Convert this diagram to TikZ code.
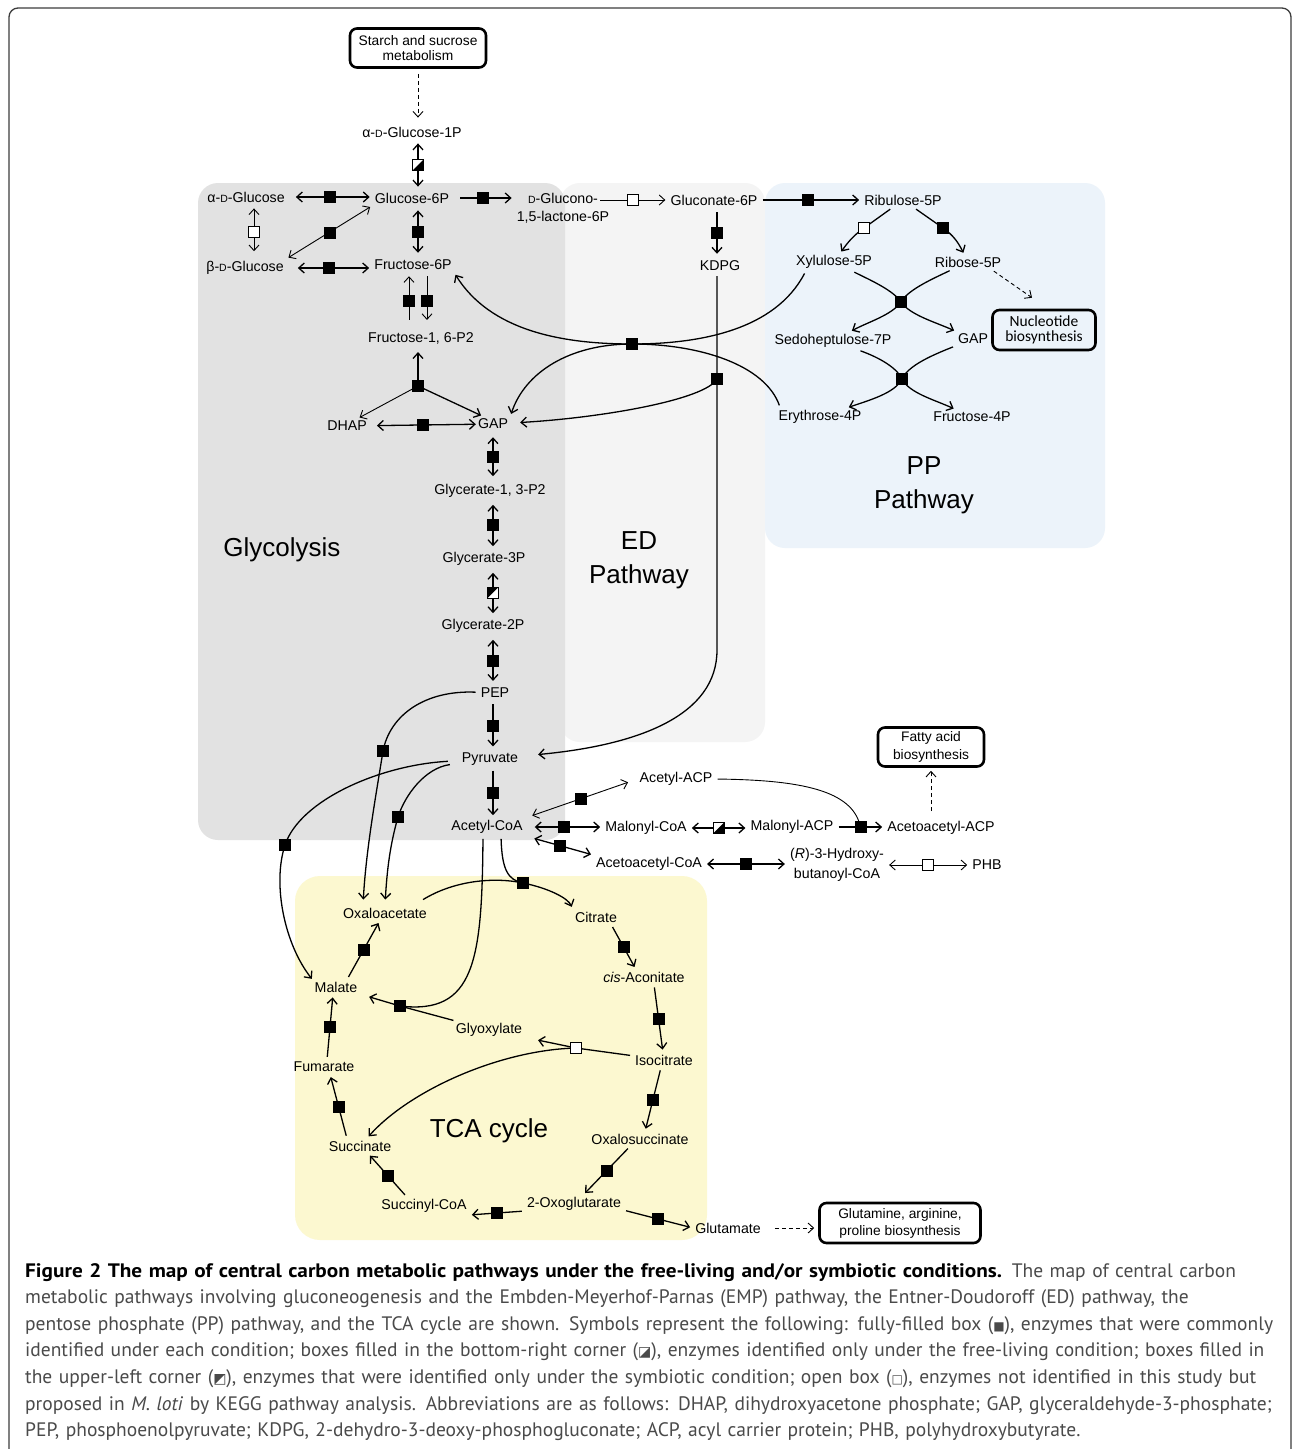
\documentclass[tikz,border=0pt]{standalone}
\usepackage{fontspec}
\setmainfont{Liberation Sans}
\newfontfamily\calib{Carlito}
\newfontfamily\capf{PT Sans}[BoldFeatures={FakeStretch=1.09}]
\newfontfamily\symf{DejaVu Sans}
\usetikzlibrary{arrows.meta,calc}
\newcommand{\smD}{{\fontsize{10.5pt}{10pt}\selectfont D}}
\definecolor{glyfill}{HTML}{E2E2E2}
\definecolor{edfill}{HTML}{F4F4F4}
\definecolor{ppfill}{HTML}{ECF3FA}
\definecolor{tcafill}{HTML}{FCF8D0}
\definecolor{capgray}{HTML}{4A4A4A}
\definecolor{framegray}{HTML}{3C3C3C}
\begin{document}
\begin{tikzpicture}[x=1pt,y=-1pt,
  >={Straight Barb[length=5.5pt,width=10pt]},
  met/.style={font=\fontsize{14.2pt}{18pt}\selectfont, inner sep=2pt, align=center},
  bigbox/.style={draw, line width=2.6pt, rounded corners=7pt, inner sep=0pt, align=center,
    font=\fontsize{13.8pt}{15pt}\selectfont},
  region/.style={font=\fontsize{26pt}{34pt}\selectfont, align=center, inner sep=0pt},
  ebox/.style={draw=black, fill=black, minimum size=11pt, inner sep=0pt, line width=0.4pt},
  obox/.style={draw=black, fill=white, minimum size=11pt, inner sep=0pt, line width=0.7pt},
  hbr/.style={obox, path picture={\fill[black] (path picture bounding box.south west) -- (path picture bounding box.south east) -- (path picture bounding box.north east) -- cycle;}},
  hul/.style={obox, path picture={\fill[black] (path picture bounding box.south west) -- (path picture bounding box.north west) -- (path picture bounding box.north east) -- cycle;}},
  rx/.style={line width=1.3pt, shorten <=3pt, shorten >=3pt},
  thinrx/.style={line width=0.9pt, shorten <=3pt, shorten >=3pt},
  dsh/.style={line width=0.9pt, dash pattern=on 4pt off 3pt, shorten <=3pt, shorten >=3pt}
]
\useasboundingbox (0,0) rectangle (1292,1449);
\fill[white] (0,0) rectangle (1292,1449);
% frame
\draw[line width=1.3pt, draw=framegray, rounded corners=9pt] (9,1470) -- (9,8) -- (1291,8) -- (1291,1470);

% regions
\fill[edfill, rounded corners=20pt] (560,183) rectangle (765,742);
\fill[ppfill, rounded corners=20pt] (765,183) rectangle (1105,548);
\fill[glyfill, rounded corners=20pt] (198,183) rectangle (565,840);
\fill[tcafill, rounded corners=25pt] (295,876) rectangle (707,1240);

\node[region] (lglyc) at (282,550) {Glycolysis};
\node[region] (led) at (639,560) {ED\\Pathway};
\node[region] (lpp) at (924,485) {PP\\Pathway};
\node[region] (ltca) at (489,1131) {TCA cycle};

% ---------- metabolites ----------
\node[bigbox, minimum width=136pt, minimum height=39pt] (starch) at (418,48) {Starch and sucrose\\metabolism};
\node[met] (ag1p) at (412,132) {α-\smD-Glucose-1P};
\node[met] (aglc) at (246,197) {α-\smD-Glucose};
\node[met] (bglc) at (245,268) {β-\smD-Glucose};
\node[met] (g6p) at (412,198) {Glucose-6P};
\node[met] (f6p) at (413,265) {Fructose-6P};
\node[met] (f16p) at (421,338) {Fructose-1, 6-P2};
\node[met] (dhap) at (347,426) {DHAP};
\node[met] (gap) at (493,424) {GAP};
\node[met] (g13p) at (490,491) {Glycerate-1, 3-P2};
\node[met] (g3p) at (484,559) {Glycerate-3P};
\node[met] (g2p) at (483,626) {Glycerate-2P};
\node[met] (pep) at (495,693) {PEP};
\node[met] (pyr) at (490,759) {Pyruvate};
\node[met] (acoa) at (487,827) {Acetyl-CoA};
\node[met] (glac) at (563,208) {\smD-Glucono-\\1,5-lactone-6P};
\node[met] (gn6p) at (714,200) {Gluconate-6P};
\node[met] (kdpg) at (720,266) {KDPG};
\node[met] (ru5p) at (903,200) {Ribulose-5P};
\node[met] (xu5p) at (834,262) {Xylulose-5P};
\node[met] (r5p) at (968,262) {Ribose-5P};
\node[met] (s7p) at (833,341) {Sedoheptulose-7P};
\node[met] (gapb) at (973,339) {GAP};
\node[met] (e4p) at (820,417) {Erythrose-4P};
\node[met] (f4p) at (972,417) {Fructose-4P};
\node[bigbox, font=\calib\fontsize{15.5pt}{15pt}\selectfont, minimum width=103pt, minimum height=40pt] (nucl) at (1044,330) {Nucleotide\\biosynthesis};

\node[met] (aacp) at (676,779) {Acetyl-ACP};
\node[met] (mcoa) at (646,828) {Malonyl-CoA};
\node[met] (macp) at (792,827) {Malonyl-ACP};
\node[met] (aaacp) at (941,828) {Acetoacetyl-ACP};
\node[bigbox, font=\fontsize{13.8pt}{18pt}\selectfont, minimum width=106pt, minimum height=39pt] (fatty) at (931,747) {Fatty acid\\biosynthesis};
\node[met] (aacoa) at (649,864) {Acetoacetyl-CoA};
\node[met, font=\fontsize{14.2pt}{20pt}\selectfont] (hb) at (837,865) {(\textit{R})-3-Hydroxy-\\butanoyl-CoA};
\node[met] (phb) at (987,865) {PHB};

\node[met] (oaa) at (385,913) {Oxaloacetate};
\node[met] (cit) at (596,917) {Citrate};
\node[met] (cis) at (644,977) {\textit{cis}-Aconitate};
\node[met] (isc) at (664,1060) {Isocitrate};
\node[met] (oxs) at (640,1139) {Oxalosuccinate};
\node[met] (og) at (574,1204) {2-Oxoglutarate};
\node[met] (scoa) at (424,1206) {Succinyl-CoA};
\node[met] (succ) at (360,1146) {Succinate};
\node[met] (fum) at (324,1067) {Fumarate};
\node[met] (mal) at (336,987) {Malate};
\node[met] (glx) at (489,1030) {Glyoxylate};
\node[met] (glu) at (728,1228) {Glutamate};
\node[bigbox, font=\fontsize{13.8pt}{17pt}\selectfont, minimum width=161pt, minimum height=40pt] (gln) at (900,1223) {Glutamine, arginine,\\proline biosynthesis};

% ---------- coordinates for branch boxes ----------
\coordinate (tk1) at (632,344);
\coordinate (kd) at (717,379);
\coordinate (kd2) at (717,650);
\coordinate (c1) at (864,228);
\coordinate (c2) at (943,228);
\coordinate (tk2) at (901,302);
\coordinate (ta) at (902,379);
\coordinate (ald) at (418,386);
\coordinate (ppc) at (383,751);
\coordinate (pyoa) at (398,817);
\coordinate (pyml) at (285,845);
\coordinate (ms) at (400,1006);
\coordinate (cs) at (523,883);
\coordinate (icl) at (576,1048);

% ---------- upper part ----------
\draw[dsh,->,shorten <=5pt,shorten >=7pt] (starch.south) -- (starch.south |- ag1p.north);
\draw[rx,<->,shorten <=4pt,shorten >=4pt] ([xshift=6pt]ag1p.south) -- node[hbr] (e1) {} ([xshift=6pt]g6p.north);
\draw[rx,<->,shorten <=9pt] (aglc.east) -- node[ebox] (e2) {} (aglc.east -| g6p.west);
\draw[thinrx,<->,shorten <=4pt,shorten >=8pt] ([xshift=8pt]aglc.south) -- node[obox] (e3) {} ([xshift=9pt]bglc.north);
\draw[thinrx,<->] (bglc.north east) -- node[ebox] (e4) {} (g6p.south west);
\draw[rx,<->,shorten <=12pt] (bglc.east) -- node[ebox] (e5) {} (bglc.east -| f6p.west);
\draw[rx,<->,shorten <=5pt,shorten >=5pt] ([xshift=6pt]g6p.south) -- node[ebox] (e6) {} ([xshift=5pt]f6p.north);
\draw[thinrx,->,shorten <=10pt,shorten >=4pt] ([xshift=-12pt]f16p.north) -- node[ebox] (e7) {} ([xshift=-4pt]f6p.south);
\draw[thinrx,->,shorten <=4pt,shorten >=10pt] ([xshift=14pt]f6p.south) -- node[ebox] (e8) {} ([xshift=6pt]f16p.north);
\draw[rx,->,shorten <=9pt] (g6p.east) -- node[ebox] (e9) {} (g6p.east -| glac.west);
\draw[thinrx,->] ([xshift=-14pt]glac.east |- gn6p.west) -- node[obox] (e10) {} (gn6p.west);
\draw[rx,->] (gn6p) -- node[ebox,pos=.47] (e11) {} (ru5p);
\draw[rx,->,shorten <=5pt,shorten >=5pt] ([xshift=3pt]gn6p.south) -- node[ebox] (e12) {} ([xshift=-3pt]kdpg.north);

% aldolase
\draw[rx,->,shorten <=0pt,shorten >=6pt] (ald) -- ([xshift=-3pt]f16p.south);
\draw[thinrx,->,shorten <=0pt] (ald) -- ([xshift=-12pt]dhap.north east);
\draw[rx,->,shorten <=0pt] (ald) -- ([xshift=8pt]gap.north west);
\node[ebox] (e13) at (ald) {};
\draw[rx,<->,shorten <=8pt,shorten >=0pt] (dhap) -- node[ebox] (e14) {} (gap);

% glycolysis chain
\draw[rx,<->,shorten <=6pt,shorten >=6pt] (gap.south) -- node[ebox] (e15) {} ([xshift=3pt]g13p.north);
\draw[rx,<->,shorten <=5pt,shorten >=4pt] ([xshift=3pt]g13p.south) -- node[ebox] (e16) {} ([xshift=9pt]g3p.north);
\draw[rx,<->,shorten <=5pt,shorten >=4pt] ([xshift=9pt]g3p.south) -- node[hul] (e17) {} ([xshift=10pt]g2p.north);
\draw[rx,<->,shorten <=5pt,shorten >=5pt] ([xshift=10pt]g2p.south) -- node[ebox] (e18) {} ([xshift=-2pt]pep.north);
\draw[rx,->,shorten <=4pt,shorten >=4pt] ([xshift=-2pt]pep.south) -- node[ebox] (e19) {} ([xshift=3pt]pyr.north);
\draw[rx,->,shorten <=3pt,shorten >=3pt] ([xshift=3pt]pyr.south) -- node[ebox] (e20) {} ([xshift=6pt]acoa.north);

% ED: KDPG
\draw[rx,->,shorten >=18pt] ([xshift=-3pt]kdpg.south) -- (kd) -- (kd2) .. controls (717,715) and (640,745) .. (pyr);
\draw[rx,->,shorten <=0pt,shorten >=10pt] (kd) .. controls (705,400) and (600,418) .. (gap);
\node[ebox] (e21) at (kd) {};

% transketolase 1
\draw[rx,->] ([xshift=12pt]xu5p.south west) .. controls (775,330) and (700,344) .. (tk1) .. controls (570,344) and (525,372) .. (gap.north east);
\draw[rx,->] ([xshift=4pt]e4p.north west) .. controls (765,365) and (700,344) .. (tk1) .. controls (560,344) and (490,330) .. (f6p.south east);
\node[ebox] (e22) at (tk1) {};

% PP pathway
\draw[rx,->,shorten >=2pt] (ru5p) -- (c1) .. controls (854,235) and (848,242) .. (xu5p);
\draw[rx,->,shorten >=2pt] (ru5p) -- (c2) .. controls (953,235) and (958,242) .. (r5p);
\node[obox] (e23) at (c1) {};
\node[ebox] (e24) at (c2) {};
\draw[rx,->] (xu5p) .. controls (870,280) and (893,290) .. (tk2) .. controls (910,315) and (935,322) .. (gapb);
\draw[rx,->] (r5p) .. controls (930,280) and (908,290) .. (tk2) .. controls (892,315) and (868,322) .. (s7p);
\node[ebox] (e25) at (tk2) {};
\draw[rx,->] (s7p) .. controls (875,356) and (896,366) .. (ta) .. controls (909,393) and (935,400) .. (f4p);
\draw[rx,->] (gapb) .. controls (930,356) and (908,366) .. (ta) .. controls (895,393) and (870,400) .. (e4p);
\node[ebox] (e26) at (ta) {};
\draw[dsh,->,shorten >=0pt] ([xshift=-12pt]r5p.south east) -- ([xshift=-12pt,yshift=11pt]nucl.north);

% pyruvate / PEP branches
\draw[rx,->,shorten >=6pt] (pep) .. controls (425,690) and (390,715) .. (ppc) .. controls (376,795) and (366,850) .. ([xshift=-22pt]oaa.north);
\draw[rx,->,shorten <=10pt,shorten >=6pt] (pyr) .. controls (425,768) and (405,795) .. (pyoa) .. controls (390,845) and (387,870) .. (oaa.north);
\draw[rx,->,shorten <=12pt,shorten >=1pt] (pyr) .. controls (380,765) and (300,800) .. (pyml) .. controls (272,885) and (285,945) .. (mal.north west);
\node[ebox] (e27) at (ppc) {};
\node[ebox] (e28) at (pyoa) {};
\node[ebox] (e29) at (pyml) {};

% acetyl-CoA branches
\draw[thinrx,<->,shorten <=8pt,shorten >=10pt] (acoa.north east) -- node[ebox] (e30) {} (aacp.west);
\draw[rx,<->,shorten <=10pt] (acoa.east) -- node[ebox] (e31) {} (acoa.east -| mcoa.west);
\draw[rx,<->,shorten <=10pt] (acoa.south east) -- node[ebox] (e32) {} (aacoa.north west);
\draw[rx,<->] (mcoa) -- node[hbr] (e33) {} (mcoa.east -| macp.west);
\draw[rx,->] (macp) -- node[ebox] (e34) {} (macp.east -| aaacp.west);
\draw[thinrx,shorten >=0pt] (aacp.east) .. controls (800,780) and (853,790) .. (e34.center);
\node[ebox] at (e34) {};
\draw[dsh,->,shorten <=8pt] (aaacp.north -| fatty.south) -- (fatty.south);
\draw[rx,<->] (aacoa.east) -- node[ebox] (e35) {} (aacoa.east -| hb.west);
\draw[thinrx,<->] (hb.east |- phb.west) -- node[obox] (e36) {} (phb.west);

% TCA
\draw[rx,shorten >=0pt] ([xshift=14pt]acoa.south) .. controls (502,870) and (508,880) .. (cs);
\draw[rx,->,shorten <=0pt] ([xshift=-6pt,yshift=6pt]oaa.north east) .. controls (455,880) and (495,877) .. (cs) .. controls (548,888) and (568,898) .. (cit.north west);
\node[ebox] (e37) at (cs) {};
\draw[rx,->] ([xshift=-8pt]cit.south east) -- node[ebox] (e38) {} ([xshift=-8pt]cis.north);
\draw[rx,->] ([xshift=10pt]cis.south) -- node[ebox] (e39) {} ([xshift=-1pt]isc.north);
\draw[rx,->] ([xshift=-3pt]isc.south) -- node[ebox] (e40) {} ([xshift=5pt]oxs.north);
\draw[rx,->] ([xshift=-10pt]oxs.south) -- node[ebox] (e41) {} ([xshift=9pt]og.north);
\draw[rx,->] ([yshift=-7pt]og.west) -- node[ebox] (e42) {} ([yshift=-9pt]scoa.east);
\draw[rx,->] ([xshift=-17pt]scoa.north) -- node[ebox] (e43) {} ([xshift=8pt]succ.south);
\draw[rx,->] ([xshift=-13pt]succ.north) -- node[ebox] (e44) {} ([xshift=6pt]fum.south);
\draw[rx,->] ([xshift=3pt]fum.north) -- node[ebox] (e45) {} ([xshift=-3pt]mal.south);
\draw[rx,->] ([xshift=11pt]mal.north) -- node[ebox] (e46) {} ([xshift=-5pt]oaa.south);
% glyoxylate shunt
\draw[rx,shorten >=0pt] ([xshift=-4pt]acoa.south) .. controls (482,960) and (475,1015) .. (ms);
\draw[rx,->,shorten >=10pt] (glx) -- (ms) -- (mal);
\node[ebox] (e47) at (ms) {};
\draw[rx,->,shorten <=0pt] (icl) .. controls (500,1050) and (410,1090) .. (succ);
\draw[rx,->,shorten >=14pt] (isc) -- (icl) -- (glx);
\node[obox] (e48) at (icl) {};
% glutamate
\draw[rx,->] ([yshift=-6pt]og.east) -- node[ebox] (e49) {} (glu.west);
\draw[dsh,->,shorten <=12pt,shorten >=4pt] (glu) -- (glu -| gln.west);

% ---------- caption ----------
\node[anchor=base west, text width=1400pt, align=left, inner sep=0pt, text=capgray,
      font=\capf\fontsize{19.5pt}{26.6pt}\selectfont] (cap) at (25,1277)
{{\color{black}\bfseries Figure 2 The map of central carbon metabolic pathways under the free-living and/or symbiotic conditions.} The map of central carbon\\
metabolic pathways involving gluconeogenesis and the Embden-Meyerhof-Parnas (EMP) pathway, the Entner-Doudoroff (ED) pathway, the\\
pentose phosphate (PP) pathway, and the TCA cycle are shown. Symbols represent the following: fully-filled box ({\symf\fontsize{12pt}{12pt}\selectfont ■}), enzymes that were commonly\\
identified under each condition; boxes filled in the bottom-right corner ({\symf\fontsize{14pt}{14pt}\selectfont ◪}), enzymes identified only under the free-living condition; boxes filled in\\
the upper-left corner ({\symf\fontsize{14pt}{14pt}\selectfont ◩}), enzymes that were identified only under the symbiotic condition; open box ({\symf\fontsize{12pt}{12pt}\selectfont □}), enzymes not identified in this study but\\
proposed in \textit{M. loti} by KEGG pathway analysis. Abbreviations are as follows: DHAP, dihydroxyacetone phosphate; GAP, glyceraldehyde-3-phosphate;\\
PEP, phosphoenolpyruvate; KDPG, 2-dehydro-3-deoxy-phosphogluconate; ACP, acyl carrier protein; PHB, polyhydroxybutyrate.};
\end{tikzpicture}
\end{document}
